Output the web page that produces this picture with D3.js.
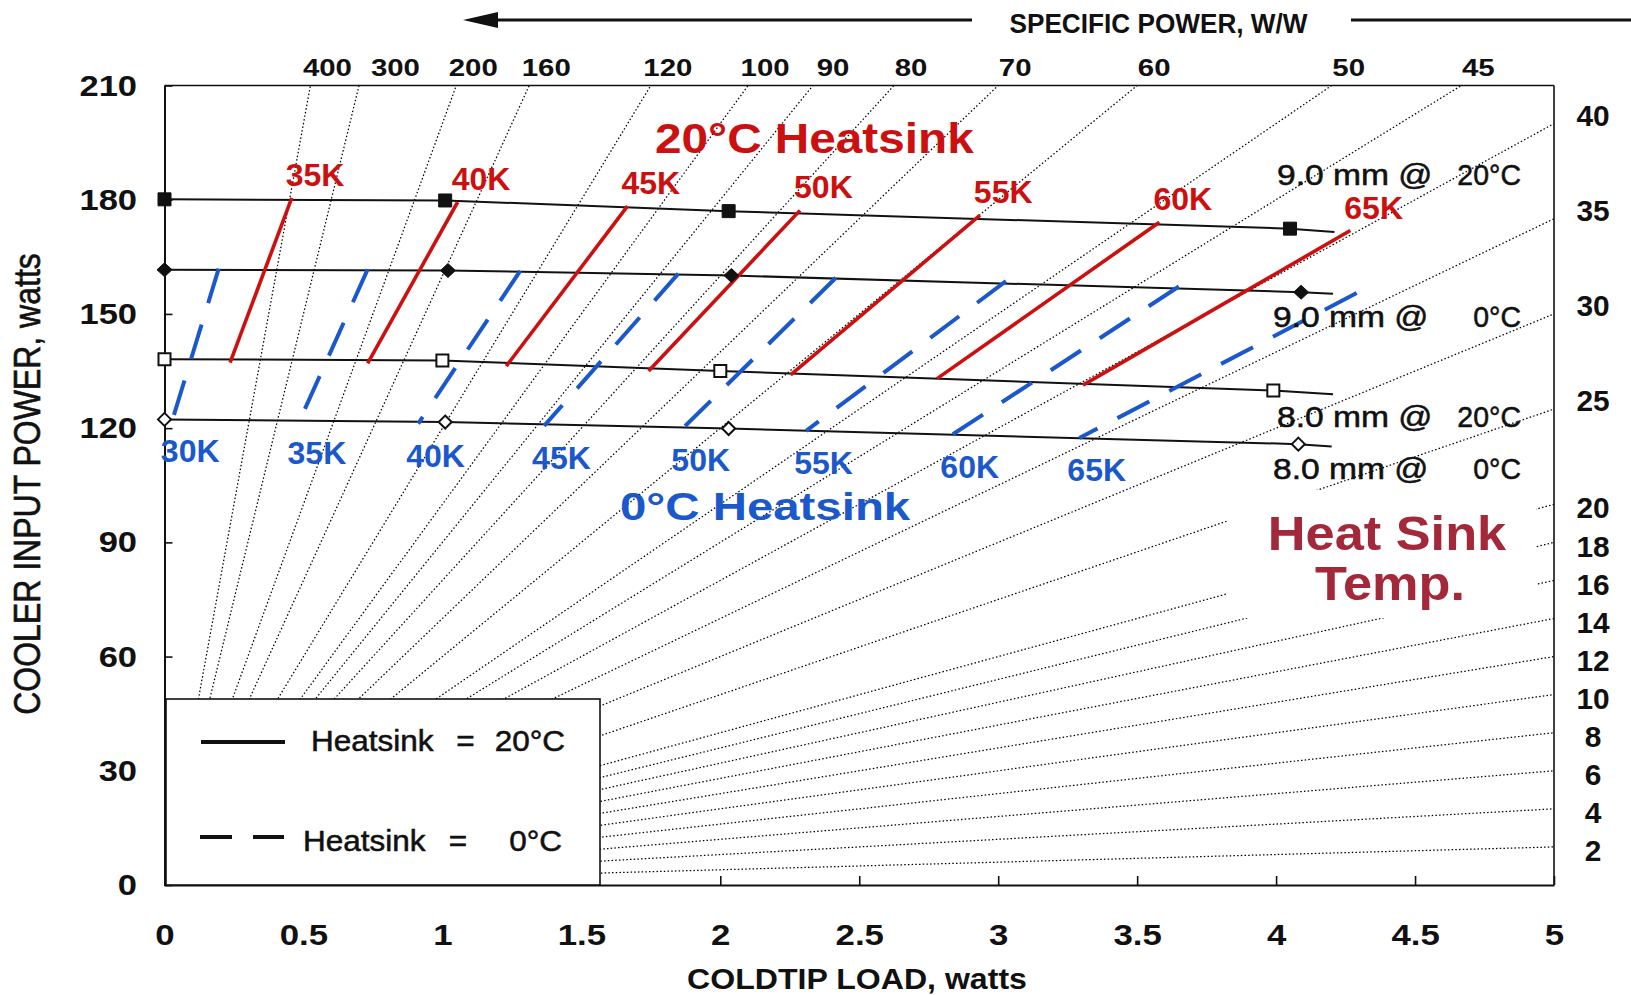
<!DOCTYPE html>
<html><head><meta charset="utf-8">
<script src="https://cdn.jsdelivr.net/npm/d3@7"></script>
<style>
html,body{margin:0;padding:0;background:#fff;}
svg{display:block;font-family:"Liberation Sans",Arial,Helvetica,sans-serif;}
</style></head><body>
<svg id="chart" width="1631" height="995"></svg>
<script>
// ---------- data ----------
const xTicks = [0, 0.5, 1, 1.5, 2, 2.5, 3, 3.5, 4, 4.5, 5];
const yTicks = [0, 30, 60, 90, 120, 150, 180, 210];
const specificPower = [400, 300, 200, 160, 120, 100, 90, 80, 70, 60, 50, 45,
                       40, 35, 30, 25, 20, 18, 16, 14, 12, 10, 8, 6, 4, 2];

const curveNames  = ["9.0 mm @", "9.0 mm @", "8.0 mm @", "8.0 mm @"];
const curveTemps  = ["20°C", "0°C", "20°C", "0°C"];
// [coldtip load W, input power W]; last point is the line end (no marker)
const curve9mm20C = [[0, 180.1], [1.01, 179.8], [2.03, 177.0], [4.05, 172.4], [4.21, 171.5]];
const curve9mm0C  = [[0, 161.6], [1.02, 161.4], [2.04, 160.1], [4.09, 155.7], [4.205, 155.3]];
const curve8mm20C = [[0, 138.1], [1.00, 137.8], [2.00, 135.0], [3.99, 129.9], [4.205, 128.9]];
const curve8mm0C  = [[0, 122.3], [1.01, 121.6], [2.03, 119.9], [4.08, 115.8], [4.20, 115.2]];

const temps20 = ["35K", "40K", "45K", "50K", "55K", "60K", "65K"];
const iso20Low  = [[0.236, 137.2], [0.731, 137.0], [1.23, 136.3], [1.742, 135.0], [2.253, 134.0], [2.78, 133.0], [3.305, 131.3]];
const iso20High = [[0.458, 180.5], [1.055, 179.4], [1.666, 178.3], [2.287, 177.2], [2.934, 175.9], [3.58, 174.1], [4.267, 171.9]];

const temps0 = ["30K", "35K", "40K", "45K", "50K", "55K", "60K", "65K"];
const iso0Low  = [[0.03, 122.5], [0.486, 121.9], [0.913, 121.2], [1.366, 120.6], [1.867, 120.1], [2.309, 119.3], [2.835, 118.3], [3.292, 117.4]];
const iso0High = [[0.195, 161.9], [0.731, 161.7], [1.28, 161.3], [1.849, 160.6], [2.416, 159.5], [3.028, 158.6], [3.65, 157.2], [4.29, 155.5]];

// ---------- setup ----------
const RED = "#cc1010", BLUE = "#1a58cc", DARKRED = "#a3283a";
const svg = d3.select("#chart");
const M = {left: 164.5, right: 1554, top: 85.5, bottom: 885};
const x = d3.scaleLinear().domain([0, 5]).range([M.left, M.right]);
const y = d3.scaleLinear().domain([0, 210]).range([M.bottom, M.top]);

function txt(g, s, px, py, o) {
  o = o || {};
  const t = g.append("text").text(s)
    .attr("transform", `translate(${px},${py}) scale(${o.sx || 1},1)` + (o.rot ? ` rotate(${o.rot})` : ""))
    .attr("font-size", o.size || 27)
    .attr("font-weight", o.weight || "bold")
    .attr("fill", o.fill || "#111")
    .attr("text-anchor", o.anchor || "start");
  if (o.weight === "normal") t.attr("stroke", o.fill || "#111").attr("stroke-width", 0.55);
  return t;
}

// ---------- specific power rays ----------
const rayEnd = d => (210 / d <= 5) ? [210 / d, 210] : [5, 5 * d];
svg.append("g").selectAll("line").data(specificPower).join("line")
  .attr("x1", x(0)).attr("y1", y(0))
  .attr("x2", d => x(rayEnd(d)[0])).attr("y2", d => y(rayEnd(d)[1]))
  .attr("stroke", "#000").attr("stroke-width", 1.25)
  .attr("stroke-dasharray", "1.5,2.2");

// top labels (pushed apart when crowded)
const topG = svg.append("g");
let prevC = -Infinity;
specificPower.filter(d => 210 / d <= 5).forEach(d => {
  let cx = x(210 / d) + 17;
  if (cx < prevC + 68) cx = prevC + 68;
  prevC = cx;
  txt(topG, d, cx, 76, {size: 24.5, sx: 1.2, anchor: "middle"});
});
// right labels
const rightG = svg.append("g");
specificPower.filter(d => 210 / d > 5).forEach(d => {
  txt(rightG, d, 1593, y(5 * d) + (d >= 25 ? -8 : 4), {size: 29, sx: 1.03, anchor: "middle"}).attr("dy", "0.35em");
});

// white area behind "Heat Sink Temp."
svg.append("rect").attr("x", 1228).attr("y", 490).attr("width", 308).attr("height", 128).attr("fill", "#fff");

// ---------- frame & axes ----------
svg.append("line").attr("x1", x(0)).attr("x2", x(5)).attr("y1", y(210)).attr("y2", y(210))
  .attr("stroke", "#111").attr("stroke-width", 1.6);
svg.append("line").attr("x1", x(5)).attr("x2", x(5)).attr("y1", y(210)).attr("y2", y(0))
  .attr("stroke", "#111").attr("stroke-width", 1.6);

const gy = svg.append("g").attr("transform", `translate(${M.left},0)`)
  .call(d3.axisLeft(y).tickValues(yTicks).tickSizeInner(-8).tickSizeOuter(0).tickPadding(0));
gy.attr("font-size", 30).attr("font-family", null).attr("font-weight", "bold");
gy.select(".domain").attr("stroke", "#111").attr("stroke-width", 2);
gy.selectAll(".tick line").attr("stroke", "#111").attr("stroke-width", 1.6);
gy.selectAll(".tick text").attr("x", 0).attr("fill", "#111")
  .attr("transform", "translate(-27.5,0) scale(1.15,1)");

const gx = svg.append("g").attr("transform", `translate(0,${M.bottom})`)
  .call(d3.axisBottom(x).tickValues(xTicks).tickFormat(d3.format("~g"))
        .tickSizeInner(-9).tickSizeOuter(0).tickPadding(0));
gx.attr("font-size", 29).attr("font-family", null).attr("font-weight", "bold");
gx.select(".domain").attr("stroke", "#111").attr("stroke-width", 2);
gx.selectAll(".tick line").attr("stroke", "#111").attr("stroke-width", 1.6);
gx.selectAll(".tick text").attr("y", 0).attr("fill", "#111")
  .attr("transform", "translate(0,39.5) scale(1.2,1)");

// ---------- legend box ----------
const leg = svg.append("g");
leg.append("rect").attr("x", 166).attr("y", 699).attr("width", 434).attr("height", 186)
  .attr("fill", "#fff").attr("stroke", "#111").attr("stroke-width", 1.6);
leg.append("line").attr("x1", 201).attr("x2", 285).attr("y1", 742).attr("y2", 742)
  .attr("stroke", "#111").attr("stroke-width", 4);
leg.append("line").attr("x1", 200).attr("x2", 284).attr("y1", 837).attr("y2", 837)
  .attr("stroke", "#111").attr("stroke-width", 4).attr("stroke-dasharray", "32,21");
txt(leg, "Heatsink", 311, 751, {size: 30, sx: 1.05, weight: "normal"});
txt(leg, "=", 465.5, 751, {size: 30, sx: 1.05, weight: "normal", anchor: "middle"});
txt(leg, "20°C", 565, 751, {size: 30, sx: 1.05, weight: "normal", anchor: "end"});
txt(leg, "Heatsink", 303, 851, {size: 30, sx: 1.05, weight: "normal"});
txt(leg, "=", 458, 851, {size: 30, sx: 1.05, weight: "normal", anchor: "middle"});
txt(leg, "0°C", 562, 851, {size: 30, sx: 1.05, weight: "normal", anchor: "end"});

// ---------- performance curves ----------
const curves = [curve9mm20C, curve9mm0C, curve8mm20C, curve8mm0C];
const line = d3.line().x(d => x(d[0])).y(d => y(d[1]));
svg.append("g").selectAll("path").data(curves).join("path")
  .attr("d", line).attr("fill", "none").attr("stroke", "#111").attr("stroke-width", 2);

// ---------- isotherms ----------
svg.append("g").selectAll("line").data(iso20Low).join("line")
  .attr("x1", d => x(d[0])).attr("y1", d => y(d[1]))
  .attr("x2", (d, i) => x(iso20High[i][0])).attr("y2", (d, i) => y(iso20High[i][1]))
  .attr("stroke", RED).attr("stroke-width", 3.6);
svg.append("g").selectAll("line").data(iso0High).join("line")
  .attr("x1", d => x(d[0])).attr("y1", d => y(d[1]))
  .attr("x2", (d, i) => x(iso0Low[i][0])).attr("y2", (d, i) => y(iso0Low[i][1]))
  .attr("stroke", BLUE).attr("stroke-width", 4).attr("stroke-dasharray", "36,22.5");

// ---------- markers ----------
const mk = svg.append("g");
function square(cx, cy, s) { return `M${cx - s / 2},${cy - s / 2}h${s}v${s}h${-s}Z`; }
function diamond(cx, cy, w, h) { return `M${cx},${cy - h}L${cx + w},${cy}L${cx},${cy + h}L${cx - w},${cy}Z`; }
const markerStyles = [
  {shape: "sq", fill: "#111", size: 13},
  {shape: "di", fill: "#111", w: 7.5, h: 7},
  {shape: "sq", fill: "#fff", size: 12},
  {shape: "di", fill: "#fff", w: 6.5, h: 6.5}
];
curves.forEach((c, ci) => {
  const st = markerStyles[ci];
  mk.selectAll(null).data(c.slice(0, c.length - 1)).join("path")
    .attr("d", d => st.shape === "sq" ? square(x(d[0]), y(d[1]), st.size) : diamond(x(d[0]), y(d[1]), st.w, st.h))
    .attr("fill", st.fill).attr("stroke", "#111").attr("stroke-width", st.fill === "#fff" ? 2 : 1);
});

// ---------- labels ----------
const lab = svg.append("g");
temps20.forEach((t, i) => txt(lab, t, x(iso20High[i][0]) - 6, y(iso20High[i][1]) - 12, {size: 32, fill: RED}));
temps0.forEach((t, i) => txt(lab, t, x(iso0Low[i][0]) - 12, y(iso0Low[i][1]) + 43, {size: 32, fill: BLUE}));

curves.forEach((c, ci) => {
  const end = c[c.length - 1];
  const by = y(end[1]) + (ci === 0 ? -47 : 33);
  txt(lab, curveNames[ci], ci % 2 ? 1273 : 1277, by, {size: 30, sx: 1.12, weight: "normal"});
  txt(lab, curveTemps[ci], 1521, by, {size: 30, sx: 0.95, weight: "normal", anchor: "end"});
});

txt(lab, "20°C Heatsink", 655, 153, {size: 43, sx: 1.11, fill: RED});
txt(lab, "0°C Heatsink", 620, 520, {size: 39.5, sx: 1.2, fill: BLUE});
txt(lab, "Heat Sink", 1387, 550, {size: 48, sx: 1.09, fill: DARKRED, anchor: "middle"});
txt(lab, "Temp.", 1390, 600, {size: 48, sx: 1.09, fill: DARKRED, anchor: "middle"});

// ---------- titles ----------
const ttl = svg.append("g");
txt(ttl, "COLDTIP LOAD, watts", 857, 989, {size: 30, sx: 1.07, anchor: "middle"});
txt(ttl, "COOLER INPUT POWER, watts", 39.5, 484, {size: 32, sx: 1.18, rot: -90, weight: "normal", anchor: "middle"});
txt(ttl, "SPECIFIC POWER, W/W", 1158.5, 33, {size: 27, sx: 0.97, anchor: "middle"});
ttl.append("line").attr("x1", 490).attr("x2", 972).attr("y1", 20).attr("y2", 20)
  .attr("stroke", "#111").attr("stroke-width", 3);
ttl.append("path").attr("d", "M463,20L498,12L498,28Z").attr("fill", "#111");
ttl.append("line").attr("x1", 1351).attr("x2", 1631).attr("y1", 20).attr("y2", 20)
  .attr("stroke", "#111").attr("stroke-width", 3);
</script>
</body></html>
